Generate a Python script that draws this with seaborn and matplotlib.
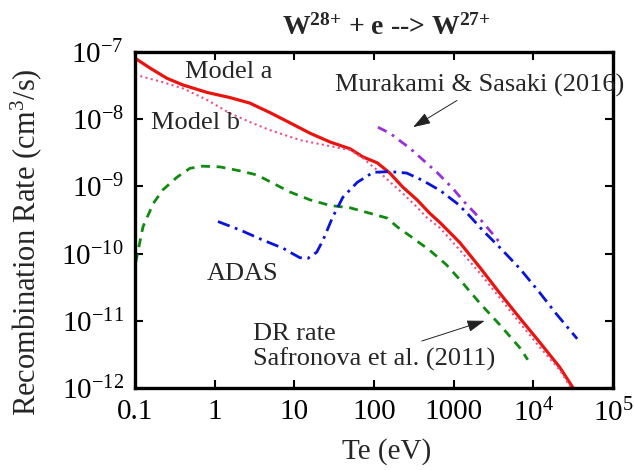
import matplotlib
matplotlib.use("Agg")
import matplotlib.pyplot as plt
import seaborn as sns
import pandas as pd

# ---- data ----
te_model_a = [0.1, 0.155, 0.251, 0.398, 0.794, 1.55, 2.75, 4.90, 8.71, 15.8, 28.2, 50.1, 72.4,
              110, 158, 229, 347, 501, 676, 1200, 2140, 3800, 6760, 12000, 21400, 31600]
rate_model_a = [8.1e-8, 5.75e-8, 4.07e-8, 3.24e-8, 2.51e-8, 2.10e-8, 1.74e-8, 1.26e-8, 8.9e-9,
                6.17e-9, 4.57e-9, 3.63e-9, 2.75e-9, 2.24e-9, 1.58e-9, 9.8e-10, 6.3e-10, 3.98e-10,
                2.88e-10, 1.45e-10, 6.2e-11, 2.57e-11, 1.10e-11, 4.8e-12, 2.04e-12, 1.0e-12]

te_model_b = [0.1, 0.224, 0.398, 0.794, 1.55, 2.75, 4.90, 11.7, 22.9, 50.1, 72.4, 110, 158, 229,
              347, 457, 676, 1200, 2140, 3800, 6760, 12000, 21400, 28800]
rate_model_b = [4.6e-8, 3.55e-8, 2.88e-8, 1.95e-8, 1.23e-8, 9.1e-9, 6.9e-9, 4.9e-9, 4.17e-9,
                3.47e-9, 2.63e-9, 1.74e-9, 1.17e-9, 7.9e-10, 4.9e-10, 3.47e-10, 2.40e-10,
                1.12e-10, 5.1e-11, 2.19e-11, 9.3e-12, 4.07e-12, 1.86e-12, 1.05e-12]

te_dr = [0.102, 0.126, 0.170, 0.224, 0.339, 0.490, 0.708, 1.17, 2.09, 3.39, 5.37, 8.71, 15.8,
         28.2, 50.1, 89.1, 145, 195, 309, 501, 813, 1200, 2140, 3800, 6760, 8510]
rate_dr = [7.4e-11, 2.51e-10, 5.6e-10, 8.9e-10, 1.38e-9, 1.86e-9, 2.0e-9, 1.95e-9, 1.70e-9,
           1.48e-9, 1.12e-9, 8.3e-10, 6.3e-10, 5.2e-10, 4.8e-10, 3.98e-10, 3.39e-10, 2.51e-10,
           1.70e-10, 1.12e-10, 6.8e-11, 4.07e-11, 1.82e-11, 8.7e-12, 3.98e-12, 2.63e-12]

te_adas = [1.10, 2.09, 4.07, 7.24, 8.8, 11.7, 14.8, 19.1, 22.9, 30.2, 40.7, 61.7, 97.7, 158,
           257, 407, 676, 1100, 1480, 2340, 3800, 6760, 12000, 19500, 35500]
rate_adas = [3.0e-10, 2.24e-10, 1.58e-10, 1.20e-10, 1.05e-10, 8.7e-11, 8.5e-11, 1.05e-10,
             1.58e-10, 3.47e-10, 6.9e-10, 1.15e-9, 1.62e-9, 1.66e-9, 1.58e-9, 1.23e-9, 8.7e-10,
             5.6e-10, 3.98e-10, 2.19e-10, 1.23e-10, 6.0e-11, 2.63e-11, 1.26e-11, 5.4e-12]

te_mura = [112, 158, 282, 407, 617, 977, 1380, 1860, 3310, 3800]
rate_mura = [7.6e-9, 6.2e-9, 3.7e-9, 2.51e-9, 1.62e-9, 9.3e-10, 5.75e-10, 3.98e-10, 1.78e-10, 1.45e-10]

x_ticks = [0.1, 1, 10, 100, 1000, 1e4, 1e5]
x_tick_labels = ["0.1", "1", "10", "100", "1000", r"10$^{4}$", r"10$^{5}$"]
y_ticks = [1e-12, 1e-11, 1e-10, 1e-9, 1e-8, 1e-7]
y_tick_labels = [r"10$^{-12}$", r"10$^{-11}$", r"10$^{-10}$", r"10$^{-9}$", r"10$^{-8}$", r"10$^{-7}$"]

# ---- style ----
sns.set_theme(style="ticks")
plt.rcParams["font.family"] = ["Liberation Serif", "DejaVu Serif"]
plt.rcParams["mathtext.fontset"] = "custom"
plt.rcParams["mathtext.rm"] = "Liberation Serif"
plt.rcParams["mathtext.it"] = "Liberation Serif:italic"
plt.rcParams["mathtext.bf"] = "Liberation Serif:bold"

FS = 19
FS_TICK = 21
fig = plt.figure(figsize=(6.34, 4.70), dpi=100)
ax = fig.add_axes([135 / 634, (470 - 388) / 470, 478 / 634, 336 / 470])
ax.set_xscale("log")
ax.set_yscale("log")

series = [
    (te_model_a, rate_model_a, dict(color="#e8140f", lw=2.3, linestyle="-")),
    (te_model_b, rate_model_b, dict(color="#e8508a", lw=1.5, linestyle=(0, (1, 1.6)))),
    (te_dr, rate_dr, dict(color="#108a10", lw=2.0, linestyle=(0, (3.2, 2.4)))),
    (te_adas, rate_adas, dict(color="#0a14d8", lw=2.0, linestyle=(0, (4.5, 2, 1, 2)))),
    (te_mura, rate_mura, dict(color="#9a30d8", lw=2.0, linestyle=(0, (3.5, 2.2, 1, 2.2)))),
]
for te, rate, kw in series:
    df = pd.DataFrame({"Te": te, "rate": rate})
    sns.lineplot(data=df, x="Te", y="rate", ax=ax, estimator=None, sort=False, **kw)

ax.set_xlim(0.1, 1e5)
ax.set_ylim(1e-12, 1e-7)
ax.minorticks_off()
ax.set_xticks(x_ticks)
ax.set_xticklabels(x_tick_labels)
ax.set_yticks(y_ticks)
ax.set_yticklabels(y_tick_labels)
ax.minorticks_off()
ax.tick_params(axis="both", which="major", direction="in", length=6, width=1.5,
               top=True, right=True, labelsize=FS_TICK, pad=8, colors="black")
for sp in ax.spines.values():
    sp.set_linewidth(2.4)
    sp.set_color("black")
    sp.set_visible(True)

ax.set_xlabel("Te (eV)", fontsize=21)
ax.set_ylabel(r"Recombination Rate (cm$^{3}$/s)", fontsize=22)
ax.xaxis.set_label_coords(0.527, -0.15)
ax.yaxis.set_label_coords(-0.19, 0.435)

ax.text(0.525, 1 + 17 / 336, r"W$^{\mathbf{28}\mathbf{+}}$ + e --> W$^{\mathbf{27}\mathbf{+}}$",
        transform=ax.transAxes, ha="center", va="baseline", fontsize=20, fontweight="bold")

ax.text(0.43, 5.0e-8, "Model a", fontsize=FS, ha="left", va="center")
ax.text(0.159, 8.7e-9, "Model b", fontsize=FS, ha="left", va="center")
ax.text(0.80, 4.9e-11, "ADAS", fontsize=FS, ha="left", va="center")
ax.text(3.0, 4.1e-12, "DR rate\nSafronova et al. (2011)", fontsize=FS, ha="left",
        va="center", linespacing=1.15)
ax.text(32.4, 3.2e-8, "Murakami & Sasaki (2016)", fontsize=FS, ha="left", va="center")

arrow_kw = dict(arrowstyle="-|>,head_length=0.9,head_width=0.3", color="#222222", lw=0.7,
                shrinkA=0, shrinkB=0)
ax.annotate("", xy=(309, 7.6e-9), xytext=(1100, 1.9e-8), arrowprops=arrow_kw)
ax.annotate("", xy=(2450, 1.0e-11), xytext=(398, 5.0e-12), arrowprops=arrow_kw)

fig.savefig("out.png", dpi=100)
